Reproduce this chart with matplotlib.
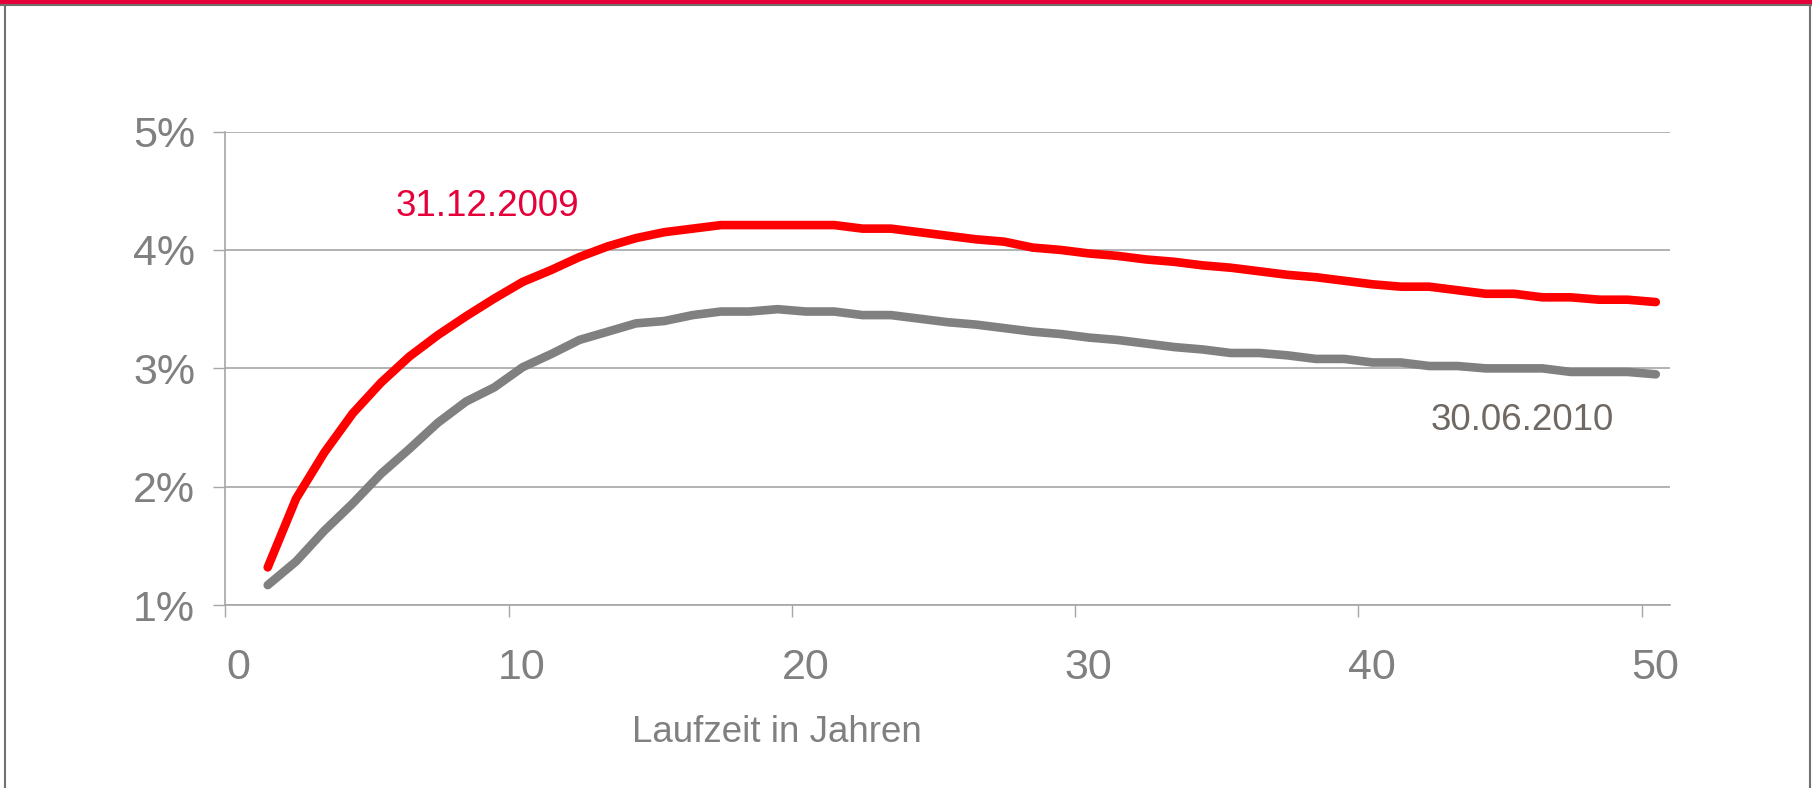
import numpy as np
import matplotlib
matplotlib.use("Agg")
import matplotlib.pyplot as plt
from matplotlib.lines import Line2D
from matplotlib.patches import Rectangle
from matplotlib.transforms import ScaledTranslation

# Laufzeit in Jahren (1 .. 50)
jahre = np.arange(1, 51)

# Zinsstrukturkurve 31.12.2009 (in %)
zins_2009 = [1.32, 1.90, 2.29, 2.62, 2.88, 3.10, 3.28, 3.44, 3.59, 3.73,
             3.83, 3.94, 4.03, 4.10, 4.15, 4.18, 4.21, 4.21, 4.21, 4.21,
             4.21, 4.18, 4.18, 4.15, 4.12, 4.09, 4.07, 4.02, 4.00, 3.97,
             3.95, 3.92, 3.90, 3.87, 3.85, 3.82, 3.79, 3.77, 3.74, 3.71,
             3.69, 3.69, 3.66, 3.63, 3.63, 3.60, 3.60, 3.58, 3.58, 3.56]

# Zinsstrukturkurve 30.06.2010 (in %)
zins_2010 = [1.17, 1.37, 1.63, 1.86, 2.11, 2.32, 2.54, 2.72, 2.84, 3.01,
             3.12, 3.24, 3.31, 3.38, 3.40, 3.45, 3.48, 3.48, 3.50, 3.48,
             3.48, 3.45, 3.45, 3.42, 3.39, 3.37, 3.34, 3.31, 3.29, 3.26,
             3.24, 3.21, 3.18, 3.16, 3.13, 3.13, 3.11, 3.08, 3.08, 3.05,
             3.05, 3.02, 3.02, 3.00, 3.00, 3.00, 2.97, 2.97, 2.97, 2.95]

x_ticks = [0, 10, 20, 30, 40, 50]
y_ticks = [1, 2, 3, 4, 5]
y_ticklabels = ["1%", "2%", "3%", "4%", "5%"]

rot = "#FF0000"
grau = "#808080"
gitter = "#A6A6A6"
rot_text = "#E5003A"
grau_text = "#6F6863"
rahmen = "#75706B"

plt.rcParams['font.family'] = ['Liberation Sans', 'DejaVu Sans']

fig = plt.figure(figsize=(18.12, 7.88), dpi=100)
ax = fig.add_axes([0.1243, 0.2319, 0.7973, 0.6012])

# Punkte liegen in der Mitte der Jahresklasse (Kategorieachse)
x = jahre + 0.5
ax.plot(x, zins_2010, color=grau, lw=6.2, solid_capstyle='round', solid_joinstyle='round', zorder=3)
ax.plot(x, zins_2009, color=rot, lw=6.2, solid_capstyle='round', solid_joinstyle='round', zorder=4)

ax.set_xlim(0, 51)
ax.set_ylim(1, 5)
ax.set_xticks(x_ticks)
ax.set_yticks(y_ticks)
ax.set_yticklabels(y_ticklabels)
ax.yaxis.grid(True, color=gitter, lw=1.2)
ax.set_axisbelow(True)

for s in ['top', 'right']:
    ax.spines[s].set_visible(False)
for s in ['left', 'bottom']:
    ax.spines[s].set_color(gitter)
    ax.spines[s].set_linewidth(1.2)

ax.tick_params(axis='x', direction='out', length=8.6, width=1.0, color=gitter,
               labelsize=31, labelcolor=grau, pad=22)
ax.tick_params(axis='y', direction='out', length=8.6, width=1.0, color=gitter,
               labelsize=31, labelcolor=grau, pad=13)

# Beschriftungen der x-Achse leicht nach rechts versetzt
versatz = ScaledTranslation(13.5 / 100, 0, fig.dpi_scale_trans)
for lab in ax.get_xticklabels():
    lab.set_transform(lab.get_transform() + versatz)

ax.text(6.0, 4.285, "31.12.2009", color=rot_text, fontsize=26.5, va='baseline', ha='left')
ax.text(42.56, 2.478, "30.06.2010", color=grau_text, fontsize=26.5, va='baseline', ha='left')

fig.text(0.3488, 0.0584, "Laufzeit in Jahren", color=grau, fontsize=26.5, va='baseline', ha='left')

# Rahmen der Folie
fig.add_artist(Rectangle((0, 1 - 3.5 / 788), 1, 3.5 / 788, transform=fig.transFigure,
                         facecolor=rot_text, edgecolor='none'))
fig.add_artist(Line2D([0, 1], [1 - 4.5 / 788] * 2, transform=fig.transFigure, color=rahmen, lw=1.5))
fig.add_artist(Line2D([5 / 1812] * 2, [0, 1 - 4.5 / 788], transform=fig.transFigure, color=rahmen, lw=1.5))
fig.add_artist(Line2D([1 - 2.5 / 1812] * 2, [0, 1 - 4.5 / 788], transform=fig.transFigure, color=rahmen, lw=1.5))

fig.savefig("out.png", dpi=100)
plt.close(fig)
